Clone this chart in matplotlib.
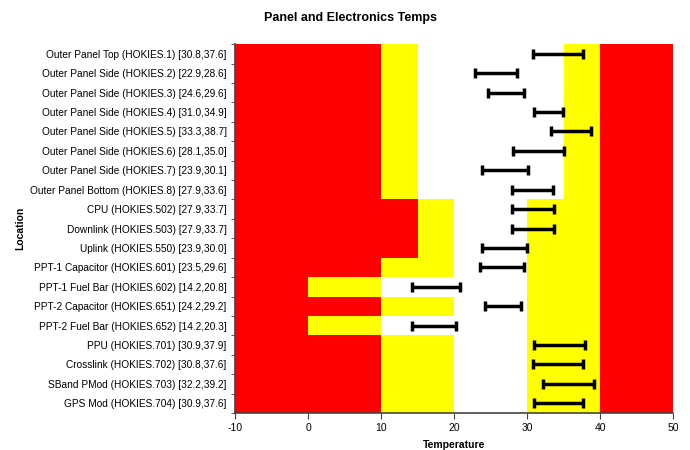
import numpy as np
import matplotlib
matplotlib.use('Agg')
from matplotlib import pyplot as plt

plt.rcParams['font.family'] = ['Liberation Sans', 'DejaVu Sans']
plt.rcParams['axes.unicode_minus'] = False

# sensor rows, top to bottom
names = ['Outer Panel Top (HOKIES.1)', 'Outer Panel Side (HOKIES.2)', 'Outer Panel Side (HOKIES.3)',
         'Outer Panel Side (HOKIES.4)', 'Outer Panel Side (HOKIES.5)', 'Outer Panel Side (HOKIES.6)',
         'Outer Panel Side (HOKIES.7)', 'Outer Panel Bottom (HOKIES.8)', 'CPU (HOKIES.502)',
         'Downlink (HOKIES.503)', 'Uplink (HOKIES.550)', 'PPT-1 Capacitor (HOKIES.601)',
         'PPT-1 Fuel Bar (HOKIES.602)', 'PPT-2 Capacitor (HOKIES.651)', 'PPT-2 Fuel Bar (HOKIES.652)',
         'PPU (HOKIES.701)', 'Crosslink (HOKIES.702)', 'SBand PMod (HOKIES.703)', 'GPS Mod (HOKIES.704)']
t_min = [30.8, 22.9, 24.6, 31.0, 33.3, 28.1, 23.9, 27.9, 27.9, 27.9, 23.9, 23.5, 14.2, 24.2, 14.2, 30.9, 30.8, 32.2, 30.9]
t_max = [37.6, 28.6, 29.6, 34.9, 38.7, 35.0, 30.1, 33.6, 33.7, 33.7, 30.0, 29.6, 20.8, 29.2, 20.3, 37.9, 37.6, 39.2, 37.6]

# limit zones: red low up to, yellow low up to, white up to, yellow high up to (red high to 50)
red_lo = [10, 10, 10, 10, 10, 10, 10, 10, 15, 15, 15, 10, 0, 10, 0, 10, 10, 10, 10]
yel_lo = [15, 15, 15, 15, 15, 15, 15, 15, 20, 20, 20, 20, 10, 20, 10, 20, 20, 20, 20]
ok_hi = [35, 35, 35, 35, 35, 35, 35, 35, 30, 30, 30, 30, 30, 30, 30, 30, 30, 30, 30]
yel_hi = [40] * 19
x_lo, x_hi = -10, 50

labels = [f'{n} [{a:.1f},{b:.1f}]' for n, a, b in zip(names, t_min, t_max)]
n = len(names)
y = np.arange(n)

fig = plt.figure(figsize=(6.9, 4.5), dpi=100)
ax = fig.add_axes([0.3406, 0.0822, 0.6348, 0.8198])

edges = [np.full(n, x_lo), np.array(red_lo), np.array(yel_lo), np.array(ok_hi), np.array(yel_hi), np.full(n, x_hi)]
cols = ['#FF0000', '#FFFF00', '#FFFFFF', '#FFFF00', '#FF0000']
for i in range(5):
    ax.barh(y, edges[i + 1] - edges[i], left=edges[i], height=1.0, color=cols[i], linewidth=0)

t_min = np.array(t_min)
t_max = np.array(t_max)
mid = (t_min + t_max) / 2
ax.errorbar(mid, y, xerr=(t_max - t_min) / 2, fmt='none', ecolor='black', elinewidth=2.5,
            capsize=3.5, capthick=2.5)

ax.set_xlim(x_lo, x_hi)
ax.set_ylim(n - 0.5, -0.5)
ax.set_xticks(np.arange(-10, 51, 10))
ax.set_yticks(y)
ax.set_yticklabels(labels)
ax.set_yticks(np.arange(n + 1) - 0.5, minor=True)
ax.tick_params(axis='y', which='major', length=0, labelsize=7.3, pad=6)
ax.tick_params(axis='y', which='minor', length=3, color='#444444')
ax.tick_params(axis='x', length=4, labelsize=7.5, color='#444444')
for s in ['top', 'right']:
    ax.spines[s].set_visible(False)
for s in ['left', 'bottom']:
    ax.spines[s].set_color('#444444')
    ax.spines[s].set_linewidth(1.2)

ax.set_xlabel('Temperature', fontsize=7.5, fontweight='bold', labelpad=5)
fig.text(0.03, 0.492, 'Location', rotation=90, fontsize=7.5, fontweight='bold', ha='center', va='center')
fig.text(0.508, 0.96, 'Panel and Electronics Temps', fontsize=9, fontweight='bold', ha='center', va='center')

fig.savefig('out.png', dpi=100)
